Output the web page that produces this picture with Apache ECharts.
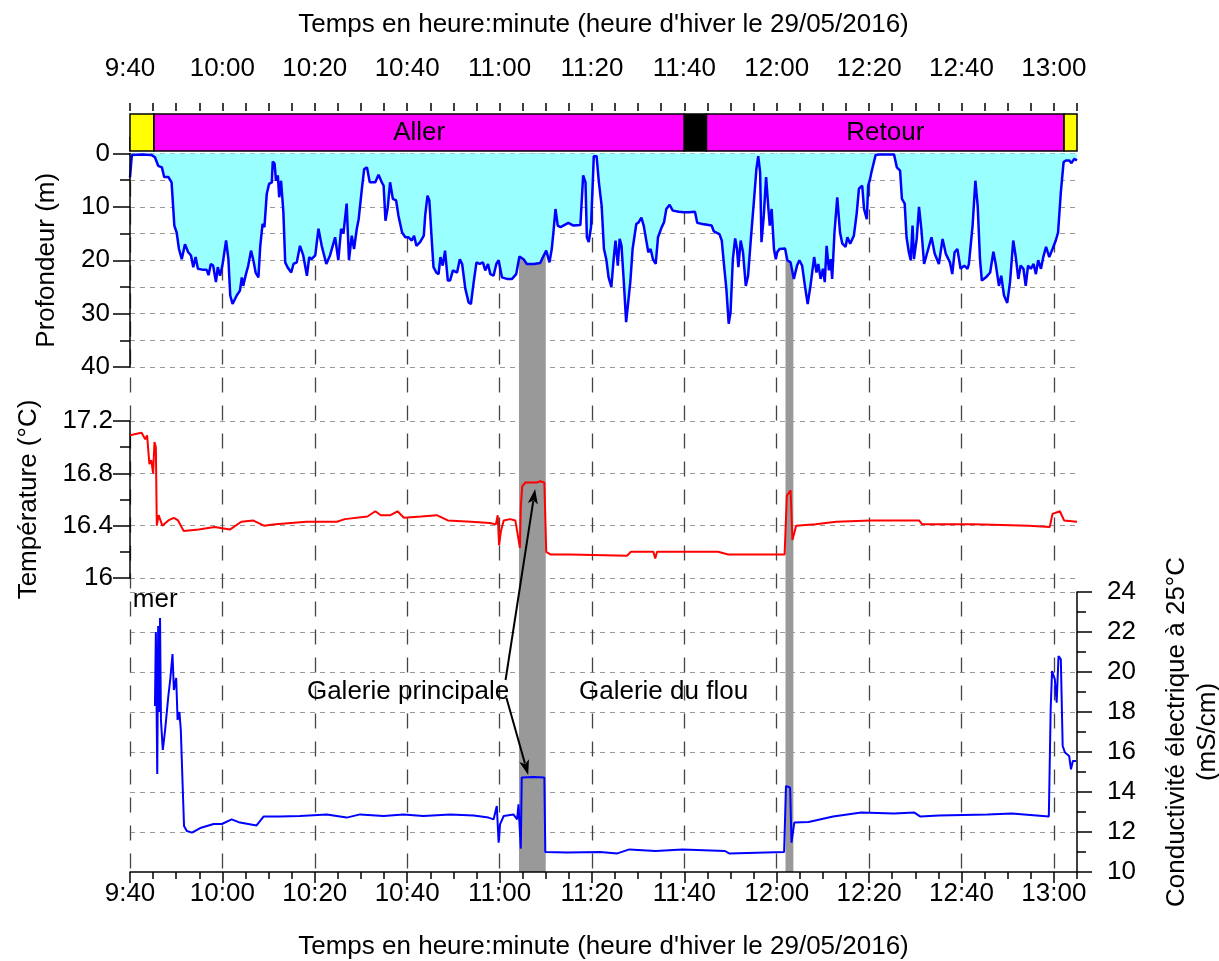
<!DOCTYPE html>
<html><head><meta charset="utf-8">
<script src="https://cdn.jsdelivr.net/npm/echarts@6/dist/echarts.min.js"></script>
<style>html,body{margin:0;padding:0;background:#fff}#c{width:1219px;height:961px}</style>
</head><body><div id="c"></div>
<script>
// time axis: minutes after 9:40
const timeTickLabels = ['9:40','10:00','10:20','10:40','11:00','11:20','11:40','12:00','12:20','12:40','13:00'];
const timeTitle = "Temps en heure:minute (heure d'hiver le 29/05/2016)";

// [minutes, depth m]
const depth = [[0,4.5],[0.4,0.3],[2.5,0.2],[4.7,0.3],[5.4,0.7],[6.1,2.3],[6.9,2.6],[7.4,4.4],[8.3,4.4],[9.0,5.4],[9.6,13.5],[10.1,14.8],[10.6,17.9],[11.2,19.8],[11.9,17.0],[12.6,18.5],[13.2,19.1],[13.7,21.3],[14.2,19.4],[14.7,21.6],[15.9,21.8],[16.6,21.8],[17.0,22.8],[17.5,20.7],[18.0,21.0],[18.6,24.1],[19.0,21.3],[19.5,22.9],[20.0,21.0],[20.4,21.0],[20.8,16.3],[21.3,19.8],[21.7,26.6],[22.2,28.2],[23.1,26.6],[23.8,25.7],[24.2,23.2],[24.5,24.8],[25.1,22.6],[25.6,21.0],[26.2,18.2],[26.7,20.0],[27.2,22.3],[27.8,23.2],[28.2,17.3],[28.7,13.2],[29.1,13.8],[29.6,7.6],[30.1,5.7],[30.7,5.4],[30.9,1.5],[31.3,1.9],[31.6,5.1],[32.0,4.1],[32.3,8.2],[32.7,5.1],[33.2,11.0],[33.6,20.4],[34.1,21.3],[34.9,22.3],[35.4,20.7],[36.1,20.4],[36.8,17.3],[37.5,19.1],[38.3,22.9],[38.8,19.4],[39.3,19.8],[40.1,19.1],[40.8,14.1],[41.5,17.3],[42.5,20.7],[43.3,19.1],[44.4,15.7],[45.1,20.0],[45.7,14.1],[46.2,15.0],[46.9,9.4],[47.4,20.0],[48.0,15.4],[48.5,17.9],[49.1,14.1],[49.5,12.3],[49.8,12.3],[50.2,6.6],[50.7,2.9],[51.3,2.6],[51.9,5.4],[53.1,5.4],[53.8,4.0],[54.5,5.4],[54.9,6.0],[55.3,12.6],[55.8,10.1],[56.3,5.4],[56.9,8.5],[57.6,8.8],[58.1,11.6],[58.9,14.8],[59.6,15.7],[60.3,15.7],[61.0,16.3],[61.5,15.4],[62.0,17.3],[62.8,16.6],[63.6,15.4],[63.9,11.6],[64.4,7.9],[64.8,8.8],[65.4,17.3],[65.7,21.3],[66.3,22.3],[66.8,22.6],[67.2,19.4],[67.7,21.0],[68.2,18.2],[68.8,23.8],[69.3,23.8],[69.9,21.9],[70.8,22.3],[71.4,19.8],[71.9,20.7],[72.6,25.4],[73.3,27.9],[73.8,28.2],[74.4,24.1],[75.0,20.4],[75.7,20.7],[76.4,20.4],[76.9,21.9],[77.5,20.7],[78.0,22.6],[78.7,22.9],[79.3,20.7],[79.8,20.0],[80.5,23.2],[81.6,23.5],[82.7,23.5],[83.6,22.6],[84.3,19.3],[85.2,19.8],[85.9,20.7],[87.4,20.7],[88.8,20.5],[89.4,19.4],[90.1,18.2],[90.8,20.4],[91.3,17.9],[91.7,14.4],[92.1,10.4],[92.6,13.5],[93.2,13.8],[94.9,13.0],[96.0,13.5],[97.5,13.4],[98.1,4.1],[98.6,5.4],[98.9,15.7],[99.3,16.6],[99.8,13.8],[100.4,0.5],[101.0,0.5],[101.5,5.4],[102.1,9.8],[102.6,17.9],[103.1,19.8],[103.6,23.2],[104.2,25.0],[104.7,19.8],[105.1,16.3],[105.6,21.0],[106.0,16.0],[106.4,17.3],[106.9,24.1],[107.4,31.6],[107.8,31.9],[108.3,24.1],[108.8,17.9],[109.6,13.2],[110.1,12.9],[110.7,12.0],[111.2,13.5],[111.7,16.0],[112.2,18.5],[112.7,17.9],[113.2,19.8],[113.8,20.7],[114.3,15.7],[115.1,13.8],[115.6,12.9],[116.1,10.4],[116.8,9.6],[117.5,10.7],[118.8,10.9],[119.9,11.0],[121.0,11.0],[122.3,10.9],[122.8,13.0],[123.9,13.2],[125.9,13.5],[126.4,14.6],[127.6,15.1],[128.1,16.3],[128.6,21.0],[129.1,25.4],[129.6,31.9],[130.0,29.8],[130.5,19.8],[131.0,15.9],[131.4,17.9],[131.7,21.3],[132.2,16.3],[132.7,18.5],[133.3,24.8],[133.8,22.9],[134.4,16.0],[135.1,8.5],[135.6,2.9],[136.0,0.5],[136.4,3.5],[136.7,16.6],[137.2,11.6],[137.7,4.4],[138.2,10.4],[138.5,13.5],[138.9,10.4],[139.4,17.9],[139.8,19.8],[140.1,18.5],[140.6,17.9],[141.8,17.8],[142.3,20.0],[143.0,20.4],[143.7,23.5],[144.4,21.0],[144.9,20.0],[145.5,21.0],[146.1,24.8],[146.7,28.2],[147.3,24.8],[148.1,19.4],[148.6,22.3],[149.0,20.7],[149.5,23.5],[150.0,21.6],[150.4,24.1],[150.8,17.3],[151.3,21.9],[151.7,19.8],[152.0,23.5],[152.5,14.8],[153.1,8.2],[153.7,14.8],[154.2,16.9],[154.9,17.5],[155.3,15.7],[155.9,16.9],[156.7,15.4],[157.3,11.3],[157.8,6.6],[158.5,6.0],[158.9,10.4],[159.5,12.3],[159.8,6.0],[160.2,4.8],[160.5,3.5],[160.9,3.8],[161.4,0.3],[162.1,0.2],[165.4,0.2],[166.0,2.6],[166.7,3.2],[167.1,8.5],[167.7,9.4],[168.1,15.7],[168.6,18.5],[169.0,20.0],[169.4,13.5],[169.7,19.8],[170.3,16.0],[170.8,10.0],[171.3,14.1],[171.9,20.7],[172.6,18.5],[173.5,15.7],[174.2,18.8],[175.1,20.7],[175.9,16.0],[176.6,18.8],[177.5,20.4],[178.0,22.6],[178.5,18.5],[179.1,17.9],[179.8,21.6],[180.6,21.0],[181.3,21.6],[181.6,20.7],[182.4,13.5],[183.0,5.1],[183.5,9.8],[184.0,19.8],[184.4,23.8],[185.3,23.2],[186.2,22.3],[186.9,18.4],[187.4,20.7],[188.1,24.8],[188.6,22.9],[189.2,26.6],[189.9,28.0],[190.5,24.1],[191.2,16.3],[191.7,19.1],[192.3,23.5],[192.8,21.0],[193.4,21.6],[193.9,24.8],[194.4,21.0],[195.0,21.6],[195.6,20.7],[196.1,22.6],[196.6,20.0],[197.2,21.6],[197.7,19.4],[198.3,17.5],[199.0,19.4],[199.7,17.9],[200.4,16.3],[200.9,14.8],[201.5,7.3],[202.1,1.6],[202.6,1.3],[203.3,1.3],[203.8,1.8],[204.4,1.0],[205.0,1.3]];

// [minutes, temperature °C]
const temperature = [[0,17.09],[1.2,17.1],[2.5,17.11],[3.3,17.06],[3.7,17.09],[4.2,16.87],[4.6,16.9],[5.0,16.8],[5.3,17.04],[5.6,17.0],[5.8,16.4],[6.2,16.48],[7.0,16.4],[8.3,16.44],[9.5,16.46],[10.4,16.44],[11.6,16.36],[14.9,16.37],[18.3,16.39],[21.6,16.37],[24.1,16.43],[26.6,16.44],[29.0,16.4],[31.5,16.41],[38.2,16.43],[44.8,16.43],[46.5,16.45],[51.4,16.47],[53.1,16.51],[54.3,16.48],[56.4,16.48],[57.9,16.51],[59.3,16.46],[63.0,16.47],[66.4,16.48],[68.8,16.44],[73.8,16.43],[77.9,16.42],[79.2,16.41],[79.6,16.48],[79.9,16.25],[80.3,16.36],[80.9,16.44],[82.3,16.45],[83.4,16.44],[83.8,16.36],[84.4,16.23],[84.6,16.54],[84.9,16.70],[85.6,16.73],[88.1,16.73],[88.8,16.74],[89.7,16.73],[90.1,16.2],[91.0,16.18],[95.3,16.18],[107.6,16.17],[108.4,16.2],[113.3,16.2],[113.7,16.15],[114.1,16.2],[127.3,16.2],[129.5,16.18],[141.7,16.18],[142.2,16.63],[143.0,16.67],[143.4,16.29],[144.2,16.4],[148.4,16.41],[152.9,16.43],[160.3,16.44],[170.8,16.44],[171.5,16.41],[182.7,16.41],[194.6,16.4],[199.1,16.39],[199.7,16.49],[201.3,16.51],[202.2,16.44],[205.0,16.43]];

// [minutes, conductivity mS/cm]
const conductivity = [[5.4,18.3],[5.6,22.0],[5.9,14.9],[6.1,22.3],[6.4,18.0],[6.5,22.7],[6.7,17.6],[7.1,16.1],[7.6,17.1],[8.3,18.8],[8.7,19.6],[9.2,20.9],[9.5,19.1],[10.0,19.7],[10.3,17.6],[10.7,18.0],[11.0,17.1],[11.4,14.3],[11.7,12.3],[12.3,12.05],[13.4,11.97],[15.2,12.2],[18.1,12.4],[19.9,12.4],[22.0,12.63],[23.8,12.47],[27.4,12.33],[28.9,12.77],[32.5,12.77],[36.8,12.8],[42.6,12.88],[46.9,12.72],[49.8,12.88],[54.9,12.8],[59.2,12.88],[63.5,12.8],[69.3,12.88],[74.4,12.83],[77.6,12.72],[78.7,12.63],[79.4,13.3],[79.8,11.47],[80.1,12.38],[80.9,12.8],[83.0,12.88],[83.8,12.63],[84.1,13.38],[84.6,11.17],[84.8,14.72],[87.4,14.75],[89.7,14.72],[89.9,11.0],[94.6,10.97],[101.8,11.0],[105.5,10.93],[108.1,11.13],[113.8,11.05],[119.6,11.13],[128.8,11.05],[129.7,10.93],[141.6,11.0],[142.0,14.3],[142.9,14.22],[143.2,11.47],[143.8,12.47],[146.9,12.5],[152.2,12.77],[158.3,12.97],[165.4,12.92],[169.8,12.97],[171.1,12.77],[175.1,12.83],[185.6,12.88],[190.9,12.92],[198.9,12.77],[199.3,18.13],[199.6,20.05],[200.2,19.63],[200.6,18.47],[201.0,20.8],[201.5,20.63],[201.9,16.3],[202.4,15.97],[203.3,15.8],[203.7,15.13],[204.1,15.55],[204.8,15.55]];

// grey shaded passages [start, end] in minutes
const grayBands = [[84.2, 90.0], [141.9, 143.6]];

// phase bar
const phaseStart = [0, 5.2, 120, 124.8, 202.2];
const phaseEnd   = [5.2, 120, 124.8, 202.2, 205];
const phaseColor = ['#ffff00', '#ff00ff', '#000000', '#ff00ff', '#ffff00'];
const phaseLabel = ['', 'Aller', '', 'Retour', ''];

// annotations (data coordinates of the conductivity / temperature panels)
const notes = [
  {text: 'mer', x: 0.6, y: 23.6, align: 'left'},
  {text: 'Galerie principale', x: 60.2, y: 19.0, align: 'center'},
  {text: 'Galerie du flou', x: 115.5, y: 19.0, align: 'center'}
];
const arrows = [
  {from: ['cond', 81.3, 19.6], to: ['temp', 87.7, 16.68]},
  {from: ['cond', 81.5, 18.7], to: ['cond', 86.2, 14.85]}
];

const FONT = '"Liberation Sans", Arial, Helvetica, sans-serif';
const FS = 26;
const XMAX = 205;
const hDash = {color: '#999', type: [5, 5], width: 1};
const vDash = {color: '#444', type: [15, 13], width: 1.3};
const black = {color: '#000', width: 1.5};

function fmtTime(v) {
  const i = Math.round(v / 20);
  return (Math.abs(v - i * 20) < 1e-6 && i < timeTickLabels.length) ? timeTickLabels[i] : '';
}

const chart = echarts.init(document.getElementById('c'), null, {renderer: 'canvas'});
const gridBase = {left: 130, right: 142, containLabel: false, outerBoundsMode: 'none'};

const option = {
  animation: false,
  backgroundColor: '#fff',
  textStyle: {fontFamily: FONT},
  grid: [
    Object.assign({top: 114, height: 37}, gridBase),
    Object.assign({top: 153.5, height: 213.5}, gridBase),
    Object.assign({top: 421, height: 157}, gridBase),
    Object.assign({top: 592, height: 280}, gridBase),
    Object.assign({top: 153.5, height: 718.5}, gridBase)
  ],
  xAxis: [
    {gridIndex: 0, type: 'value', position: 'top', min: 0, max: XMAX, interval: 20, offset: 3,
     axisLine: {show: false}, axisTick: {show: true, length: 14, lineStyle: black},
     axisLabel: {formatter: fmtTime, fontSize: FS, color: '#000', margin: 29, fontFamily: FONT, showMaxLabel: false},
     splitLine: {show: false},
     name: timeTitle, nameLocation: 'middle', nameGap: 73,
     nameTextStyle: {fontSize: FS, color: '#000', fontFamily: FONT}},
    {gridIndex: 0, type: 'value', position: 'top', min: 0, max: XMAX, interval: 5, offset: 3,
     axisLine: {show: false}, axisTick: {show: true, length: 8, lineStyle: black},
     axisLabel: {show: false}, splitLine: {show: false}},
    {gridIndex: 1, type: 'value', min: 0, max: XMAX, show: false},
    {gridIndex: 2, type: 'value', min: 0, max: XMAX, show: false},
    {gridIndex: 3, type: 'value', position: 'bottom', min: 0, max: XMAX, interval: 20, z: 5,
     axisLine: {show: true, onZero: false, lineStyle: black}, axisTick: {show: true, length: 11, lineStyle: black},
     axisLabel: {formatter: fmtTime, fontSize: FS, color: '#000', margin: 9, fontFamily: FONT, showMaxLabel: false},
     splitLine: {show: false},
     name: timeTitle, nameLocation: 'middle', nameGap: 62,
     nameTextStyle: {fontSize: FS, color: '#000', fontFamily: FONT}},
    {gridIndex: 3, type: 'value', position: 'bottom', min: 0, max: XMAX, interval: 5, z: 5,
     axisLine: {show: false, onZero: false}, axisTick: {show: true, length: 7, lineStyle: black},
     axisLabel: {show: false}, splitLine: {show: false}},
    {gridIndex: 4, type: 'value', position: 'bottom', min: 0, max: XMAX, interval: 20,
     axisLine: {show: false}, axisTick: {show: false}, axisLabel: {show: false},
     splitLine: {show: true, showMinLine: true, showMaxLine: false, lineStyle: vDash}}
  ],
  yAxis: [
    {gridIndex: 0, type: 'value', position: 'left', min: 0, max: 1, show: false},
    // depth grid lines
    {gridIndex: 1, type: 'value', position: 'left', inverse: true, min: 0, max: 40, interval: 5,
     axisLine: {show: false, onZero: false}, axisTick: {show: false}, axisLabel: {show: false},
     splitLine: {show: true, lineStyle: hDash}},
    // depth axis
    {gridIndex: 1, type: 'value', position: 'left', offset: 0, inverse: true, min: 0, max: 40, interval: 10, z: 6,
     axisLine: {show: true, onZero: false, lineStyle: black},
     axisTick: {show: true, length: 17, lineStyle: black},
     minorTick: {show: true, splitNumber: 2, length: 10, lineStyle: black},
     axisLabel: {fontSize: FS, color: '#000', margin: 20, fontFamily: FONT},
     splitLine: {show: false},
     name: 'Profondeur (m)', nameLocation: 'middle', nameGap: 70, nameRotate: 90,
     nameTextStyle: {fontSize: FS, color: '#000', fontFamily: FONT}},
    // temperature
    {gridIndex: 2, type: 'value', position: 'left', min: 16, max: 17.2, interval: 0.4,
     axisLine: {show: true, onZero: false, lineStyle: black},
     axisTick: {show: true, length: 17, lineStyle: black},
     minorTick: {show: true, splitNumber: 2, length: 10, lineStyle: black},
     axisLabel: {fontSize: FS, color: '#000', margin: 17, fontFamily: FONT},
     splitLine: {show: true, lineStyle: hDash},
     name: 'Température (°C)', nameLocation: 'middle', nameGap: 88, nameRotate: 90,
     nameTextStyle: {fontSize: FS, color: '#000', fontFamily: FONT}},
    // conductivity
    {gridIndex: 3, type: 'value', position: 'right', min: 10, max: 24, interval: 2,
     axisLine: {show: true, onZero: false, lineStyle: black},
     axisTick: {show: true, length: 15, lineStyle: black},
     minorTick: {show: true, splitNumber: 2, length: 9, lineStyle: black},
     axisLabel: {fontSize: FS, color: '#000', margin: 30, fontFamily: FONT},
     splitLine: {show: true, showMinLine: false, lineStyle: hDash},
     name: 'Conductivité électrique à 25°C\n(mS/cm)', nameLocation: 'middle', nameGap: 84, nameRotate: 90,
     nameTextStyle: {fontSize: FS, color: '#000', fontFamily: FONT, lineHeight: 31}},
    {gridIndex: 4, type: 'value', position: 'left', min: 0, max: 1, show: false}
  ],
  series: [
    {type: 'custom', name: 'bands', xAxisIndex: 6, yAxisIndex: 5, z: 1, silent: true,
     data: grayBands, encode: {x: [0, 1]},
     renderItem: function (params, api) {
       const s = api.coord([api.value(0), 0]);
       const e = api.coord([api.value(1), 0]);
       const cs = params.coordSys;
       return {type: 'rect', shape: {x: s[0], y: cs.y, width: e[0] - s[0], height: cs.height},
               style: {fill: '#999999'}};
     }},
    {type: 'custom', name: 'phases', xAxisIndex: 0, yAxisIndex: 0, z: 4, silent: true,
     data: phaseStart.map((s, i) => [s, phaseEnd[i]]), encode: {x: [0, 1]},
     renderItem: function (params, api) {
       const i = params.dataIndex;
       const s = api.coord([api.value(0), 0]);
       const e = api.coord([api.value(1), 0]);
       const cs = params.coordSys;
       const children = [{type: 'rect', shape: {x: s[0], y: cs.y, width: e[0] - s[0], height: cs.height},
                          style: {fill: phaseColor[i], stroke: '#000', lineWidth: 1.5}}];
       if (phaseLabel[i]) {
         children.push({type: 'text', style: {text: phaseLabel[i], x: (s[0] + e[0]) / 2, y: cs.y + cs.height / 2,
           align: 'center', verticalAlign: 'middle', fontSize: FS, fontFamily: FONT, fill: '#000'}});
       }
       return {type: 'group', children: children};
     }},
    {type: 'line', name: 'Profondeur', xAxisIndex: 2, yAxisIndex: 1, z: 3, data: depth,
     showSymbol: false, symbol: 'none', lineStyle: {color: '#0000ff', width: 2.5},
     areaStyle: {color: '#99ffff', opacity: 1, origin: 'start'}},
    {type: 'line', name: 'Température', xAxisIndex: 3, yAxisIndex: 3, z: 3, data: temperature,
     showSymbol: false, symbol: 'none', lineStyle: {color: '#ff0000', width: 2}},
    {type: 'line', name: 'Conductivité', xAxisIndex: 4, yAxisIndex: 4, z: 3, data: conductivity,
     showSymbol: false, symbol: 'none', lineStyle: {color: '#0000ff', width: 2}}
  ]
};
chart.setOption(option);

// annotations placed through the chart's own coordinate conversion
const finders = {cond: {xAxisIndex: 4, yAxisIndex: 4}, temp: {xAxisIndex: 3, yAxisIndex: 3}};
const graphics = [];
notes.forEach(n => {
  const p = chart.convertToPixel(finders.cond, [n.x, n.y]);
  graphics.push({type: 'text', x: p[0], y: p[1], z: 20,
    style: {text: n.text, align: n.align, verticalAlign: 'middle', fontSize: FS, fontFamily: FONT, fill: '#000'}});
});
arrows.forEach(a => {
  const p0 = chart.convertToPixel(finders[a.from[0]], [a.from[1], a.from[2]]);
  const p1 = chart.convertToPixel(finders[a.to[0]], [a.to[1], a.to[2]]);
  const dx = p1[0] - p0[0], dy = p1[1] - p0[1];
  const len = Math.sqrt(dx * dx + dy * dy);
  const ux = dx / len, uy = dy / len;
  const hl = 15, hw = 5;
  const bx = p1[0] - ux * hl, by = p1[1] - uy * hl;
  graphics.push({type: 'line', z: 20, shape: {x1: p0[0], y1: p0[1], x2: bx + ux * 3, y2: by + uy * 3},
    style: {stroke: '#000', lineWidth: 2}});
  graphics.push({type: 'polygon', z: 20, shape: {points: [
      [p1[0], p1[1]], [bx - uy * hw, by + ux * hw], [p1[0] - ux * hl * 0.75, p1[1] - uy * hl * 0.75], [bx + uy * hw, by - ux * hw]]},
    style: {fill: '#000'}});
});
chart.setOption({graphic: graphics});
</script>
</body></html>
